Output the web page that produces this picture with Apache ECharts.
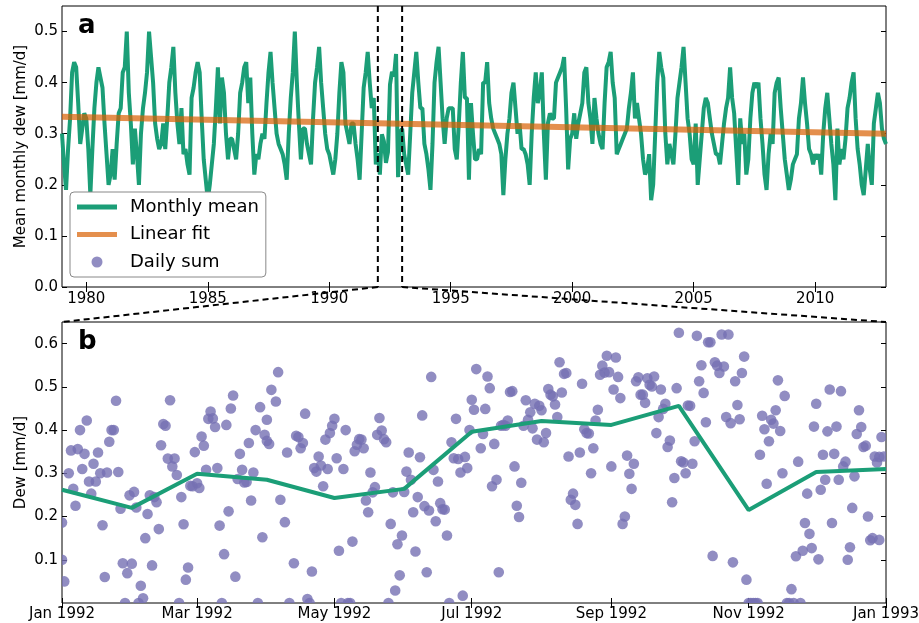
<!DOCTYPE html>
<html><head><meta charset="utf-8">
<script src="https://cdn.jsdelivr.net/npm/echarts@6/dist/echarts.min.js"></script>
<style>html,body{margin:0;padding:0;background:#fff}#c{width:919px;height:623px}</style>
</head><body><div id="c"></div>
<script>
// ---------- DATA ----------
const startYear = 1979;
// monthly mean dew [mm/d], one row per year (Jan..Dec), 1979-2012
const monthlyMean = [
  0.30,0.24,0.19,0.27,0.33,0.42,0.44,0.43,0.36,0.28,0.31,0.34,
  0.33,0.27,0.18,0.27,0.35,0.40,0.43,0.41,0.39,0.32,0.26,0.20,
  0.22,0.27,0.21,0.28,0.34,0.35,0.42,0.43,0.50,0.38,0.32,0.24,
  0.31,0.26,0.20,0.30,0.35,0.38,0.42,0.50,0.45,0.40,0.32,0.29,
  0.27,0.28,0.32,0.27,0.33,0.40,0.43,0.47,0.38,0.32,0.28,0.35,
  0.26,0.27,0.24,0.22,0.37,0.39,0.42,0.44,0.42,0.33,0.25,0.21,
  0.17,0.20,0.24,0.28,0.35,0.43,0.32,0.41,0.38,0.30,0.25,0.29,
  0.29,0.27,0.25,0.30,0.38,0.40,0.43,0.44,0.36,0.41,0.30,0.22,
  0.26,0.25,0.28,0.30,0.29,0.36,0.42,0.46,0.40,0.35,0.30,0.28,
  0.27,0.26,0.24,0.21,0.30,0.37,0.42,0.50,0.40,0.32,0.25,0.31,
  0.31,0.28,0.26,0.24,0.33,0.40,0.43,0.47,0.40,0.35,0.30,0.27,
  0.26,0.24,0.22,0.25,0.30,0.38,0.44,0.42,0.32,0.30,0.28,0.32,
  0.32,0.28,0.25,0.21,0.30,0.39,0.42,0.46,0.40,0.35,0.37,0.24,
  0.262,0.220,0.299,0.285,0.243,0.264,0.396,0.421,0.412,0.456,0.215,0.303,
  0.31,0.26,0.24,0.22,0.30,0.38,0.42,0.46,0.40,0.35,0.35,0.28,
  0.26,0.23,0.19,0.28,0.40,0.44,0.47,0.40,0.33,0.28,0.33,0.35,
  0.35,0.35,0.27,0.25,0.32,0.40,0.46,0.37,0.37,0.21,0.36,0.30,
  0.25,0.25,0.27,0.26,0.40,0.40,0.44,0.36,0.33,0.31,0.30,0.29,
  0.28,0.26,0.18,0.25,0.30,0.33,0.38,0.40,0.35,0.30,0.32,0.27,
  0.27,0.26,0.24,0.20,0.30,0.37,0.42,0.36,0.38,0.42,0.30,0.21,
  0.32,0.34,0.33,0.33,0.40,0.41,0.42,0.43,0.45,0.35,0.23,0.29,
  0.30,0.34,0.29,0.32,0.34,0.36,0.42,0.43,0.36,0.33,0.28,0.37,
  0.33,0.30,0.28,0.27,0.36,0.43,0.44,0.46,0.40,0.37,0.26,0.27,
  0.28,0.29,0.30,0.31,0.35,0.38,0.42,0.33,0.36,0.33,0.30,0.25,
  0.22,0.23,0.26,0.17,0.20,0.30,0.40,0.46,0.43,0.41,0.30,0.24,
  0.28,0.26,0.24,0.30,0.37,0.40,0.43,0.47,0.40,0.33,0.30,0.25,
  0.24,0.32,0.20,0.25,0.30,0.35,0.37,0.36,0.33,0.30,0.28,0.26,
  0.26,0.24,0.28,0.32,0.35,0.37,0.43,0.37,0.34,0.27,0.20,0.33,
  0.28,0.30,0.22,0.25,0.33,0.38,0.40,0.39,0.40,0.33,0.28,0.22,
  0.19,0.26,0.30,0.28,0.38,0.40,0.41,0.35,0.30,0.25,0.22,0.19,
  0.21,0.24,0.25,0.26,0.33,0.36,0.41,0.36,0.32,0.27,0.26,0.24,
  0.26,0.25,0.26,0.22,0.30,0.35,0.38,0.33,0.28,0.24,0.17,0.31,
  0.24,0.27,0.25,0.29,0.35,0.37,0.40,0.42,0.33,0.27,0.24,0.20,
  0.18,0.23,0.28,0.23,0.20,0.32,0.35,0.38,0.36,0.31,0.29,0.28
];
// linear fit value at first and last month
const linearFitEnds = [0.333, 0.300];
// zoomed year shown in panel b
const zoomYear = 1992;
// daily sums in zoomYear: [day of year (0 = Jan 1), value]
const dailySum = [
  [0,0.186],[0,0.10],[1,0.05],[3,0.30],[4,0.353],[5,0.264],[6,0.225],[7,0.356],[8,0.40],[9,0.31],
  [10,0.345],[11,0.422],[12,0.281],[13,0.253],[14,0.322],[15,0.281],[16,0.348],[17,0.30],[18,0.18],[19,0.06],
  [20,0.302],[21,0.373],[22,0.40],[23,0.40],[24,0.468],[25,0.303],[26,0.218],[27,0.092],[28,0],[29,0.069],
  [30,0.249],[31,0.091],[32,0.257],[33,0.221],[34,0],[35,0.04],[36,0.011],[37,0.15],[38,0.206],[39,0.249],
  [40,0.087],[41,0.245],[42,0.233],[43,0.171],[44,0.365],[45,0.414],[46,0.41],[47,0.334],[48,0.469],[49,0.316],
  [50,0.334],[51,0.296],[52,0],[53,0.245],[54,0.182],[55,0.054],[56,0.082],[57,0.271],[58,0.27],[59,0.349],
  [60,0.277],[61,0.266],[62,0.385],[63,0.364],[64,0.308],[65,0.426],[66,0.443],[67,0.427],[68,0.407],[69,0.312],
  [70,0.179],[71,0],[72,0.113],[73,0.412],[74,0.212],[75,0.45],[76,0.48],[77,0.061],[78,0.287],[79,0.345],
  [80,0.308],[81,0.279],[82,0.28],[83,0.37],[84,0.237],[85,0.302],[86,0.40],[87,0],[88,0.453],[89,0.152],
  [90,0.389],[91,0.375],[91,0.424],[92,0.368],[93,0.493],[95,0.466],[96,0.534],[97,0.239],[99,0.187],
  [100,0.348],[101,0],[103,0.092],[104,0.387],[105,0.384],[106,0.358],[107,0.37],[108,0.438],[109,0.009],
  [110,0],[111,0.073],[112,0.312],[113,0.304],[114,0.339],[115,0.318],[116,0.27],[117,0.378],[118,0.31],[119,0.393],
  [120,0.41],[121,0.426],[122,0.335],[123,0.121],[124,0],[125,0.31],[126,0.40],[127,0],[128,0],[129,0.142],
  [130,0.351],[131,0.366],[132,0.379],[133,0.378],[134,0.358],[135,0.237],[136,0.21],[137,0.302],[138,0.256],[139,0.268],
  [140,0.389],[141,0.428],[142,0.399],[143,0.379],[144,0.372],[145,0],[146,0.183],[147,0.256],[148,0.029],[149,0.136],
  [150,0.064],[151,0.156],[152,0.257],[153,0.304],[154,0.348],[155,0.285],[156,0.21],[157,0.119],[158,0.245],[159,0.337],
  [160,0.434],[161,0.224],[162,0.071],[163,0.214],[164,0.523],[165,0.308],[166,0.189],[167,0.281],[168,0.231],[169,0.217],
  [170,0.216],[171,0.156],[172,0],[173,0.372],[174,0.335],[175,0.426],[176,0.333],[177,0.302],[178,0.017],[179,0.338],
  [180,0.312],[181,0.40],[182,0.47],[183,0.447],[184,0.541],[186,0.358],[187,0.391],[188,0.449],[189,0.524],
  [190,0.497],[191,0.27],[192,0.368],[193,0.285],[194,0.071],[195,0.41],[196,0.412],[197,0.41],[198,0.422],[199,0.488],
  [200,0.49],[201,0.316],[202,0.225],[203,0.199],[204,0.278],[205,0.41],[206,0.469],[207,0.424],[208,0.441],[209,0.404],
  [210,0.461],[211,0.378],[212,0.456],[213,0.446],[214,0.372],[215,0.393],[216,0.495],[217,0.482],[218,0.478],[219,0.459],
  [220,0.43],[221,0.557],[222,0.487],[223,0.53],[224,0.532],[225,0.339],[226,0.239],[227,0.253],[228,0.227],[229,0.183],
  [230,0.348],[231,0.507],[232,0.402],[233,0.393],[234,0.392],[235,0.30],[236,0.358],[237,0.422],[238,0.447],[239,0.528],
  [240,0.549],[241,0.533],[242,0.572],[243,0.534],[244,0.316],[245,0.494],[246,0.568],[247,0.523],[248,0.474],[249,0.183],
  [250,0.20],[251,0.341],[252,0.299],[253,0.264],[254,0.322],[255,0.513],[256,0.522],[257,0.482],[258,0.482],[259,0.463],
  [260,0.52],[261,0.505],[262,0.501],[263,0.524],[264,0.393],[265,0.43],[266,0.494],[267,0.449],[268,0.461],[269,0.361],
  [270,0.376],[271,0.233],[272,0.289],[273,0.497],[274,0.625],[275,0.328],[276,0.325],[277,0.30],[278,0.457],[279,0.456],
  [280,0.322],[281,0.374],[282,0.618],[283,0.513],[284,0.55],[285,0.486],[286,0.418],[287,0.603],[288,0.603],[289,0.109],
  [290,0.557],[291,0.549],[292,0.532],[293,0.621],[294,0.547],[295,0.43],[296,0.621],[297,0.416],[298,0.094],[299,0.513],
  [300,0.458],[301,0.425],[302,0.532],[303,0.57],[304,0.054],[305,0],[306,0],[307,0],[308,0],[309,0],
  [310,0.343],[311,0.433],[312,0.402],[313,0.276],[314,0.374],[315,0.424],[316,0.415],[317,0.446],[318,0.515],[319,0.398],
  [320,0.30],[321,0.479],[322,0],[323,0],[324,0.032],[325,0],[326,0.108],[327,0.327],[328,0],[329,0.121],
  [330,0.185],[331,0.253],[332,0.16],[333,0.127],[334,0.408],[335,0.461],[336,0.101],[337,0.262],[338,0.343],[339,0.285],
  [340,0.397],[341,0.494],[342,0.185],[343,0.345],[344,0.408],[345,0.285],[346,0.49],[347,0.316],[348,0.327],[349,0.10],
  [350,0.129],[351,0.22],[352,0.293],[353,0.391],[354,0.446],[355,0.407],[356,0.361],[357,0.364],[358,0.20],[359,0.145],
  [360,0.15],[361,0.339],[362,0.325],[363,0.146],[363,0.338],[364,0.384],[365,0.339]
];
// tick labels
const yearTicks = [1980, 1985, 1990, 1995, 2000, 2005, 2010];
const topYTicks = [0.0, 0.1, 0.2, 0.3, 0.4, 0.5];
const bottomYTicks = [0.1, 0.2, 0.3, 0.4, 0.5, 0.6];
const bottomMonthTicks = [0, 2, 4, 6, 8, 10, 12];
const monthNames = ['Jan','Feb','Mar','Apr','May','Jun','Jul','Aug','Sep','Oct','Nov','Dec'];
const topYMax = 0.55, bottomYMax = 0.65;

// ---------- DERIVED ----------
const topLine = monthlyMean.map((v, i) => [startYear + i / 12, v]);
const topXMin = startYear, topXMax = startYear + (monthlyMean.length - 1) / 12;
const fitLine = [[topXMin, linearFitEnds[0]], [topXMax, linearFitEnds[1]]];
const off = (zoomYear - startYear) * 12;
const zoomLine = [];
for (let m = 0; m <= 12; m++) zoomLine.push([Date.UTC(zoomYear, m, 1), monthlyMean[off + m]]);
const dayMs = 86400000;
const t0 = Date.UTC(zoomYear, 0, 1), t1 = Date.UTC(zoomYear + 1, 0, 1);
const dailyData = dailySum.map(d => [t0 + d[0] * dayMs, d[1]]);
const monthTickValues = bottomMonthTicks.map(m => Date.UTC(zoomYear, m, 1));

const GREEN = '#1b9e77', ORANGE = 'rgba(217,95,2,0.7)', PURPLE = 'rgba(117,112,179,0.8)';
const FONT = 'DejaVu Sans';
const grids = [
  {left: 62, top: 6, width: 824, height: 281},
  {left: 62, top: 322, width: 824, height: 281}
].map(g => Object.assign({show: true, borderColor: '#000', borderWidth: 1, containLabel: false, outerBoundsMode: 'none'}, g));

function tickAxis(extra) {
  return Object.assign({
    type: 'value', splitLine: {show: false}, axisLine: {show: false},
    axisTick: {inside: true, length: 5, lineStyle: {color: '#000', width: 1}},
    axisLabel: {color: '#000', fontSize: 15, fontFamily: FONT}
  }, extra);
}
const fmtMonth = v => { const d = new Date(v); return monthNames[d.getUTCMonth()] + ' ' + d.getUTCFullYear(); };

const xAxis = [
  tickAxis({gridIndex: 0, position: 'bottom', min: topXMin, max: topXMax,
    axisTick: {inside: true, length: 5, customValues: yearTicks, lineStyle: {color: '#000'}},
    axisLabel: {customValues: yearTicks, color: '#000', fontSize: 15, fontFamily: FONT, margin: 5, formatter: v => String(v)}}),
  tickAxis({gridIndex: 0, position: 'top', min: topXMin, max: topXMax,
    axisTick: {inside: true, length: 5, customValues: yearTicks, lineStyle: {color: '#000'}},
    axisLabel: {show: false}}),
  tickAxis({gridIndex: 1, position: 'bottom', min: t0, max: t1,
    axisTick: {inside: true, length: 5, customValues: monthTickValues, lineStyle: {color: '#000'}},
    axisLabel: {customValues: monthTickValues, color: '#000', fontSize: 15, fontFamily: FONT, margin: 4, formatter: fmtMonth}}),
  tickAxis({gridIndex: 1, position: 'top', min: t0, max: t1,
    axisTick: {inside: true, length: 5, customValues: monthTickValues, lineStyle: {color: '#000'}},
    axisLabel: {show: false}})
];
const yAxis = [
  tickAxis({gridIndex: 0, position: 'left', min: 0, max: topYMax,
    name: 'Mean monthly dew [mm/d]', nameLocation: 'middle', nameGap: 33, nameMoveOverlap: false,
    nameTextStyle: {fontSize: 15, color: '#000', fontFamily: FONT},
    axisTick: {inside: true, length: 5, customValues: topYTicks, lineStyle: {color: '#000'}},
    axisLabel: {customValues: topYTicks, color: '#000', fontSize: 15, fontFamily: FONT, margin: 4, formatter: v => v.toFixed(1)}}),
  tickAxis({gridIndex: 0, position: 'right', min: 0, max: topYMax,
    axisTick: {inside: true, length: 5, customValues: topYTicks, lineStyle: {color: '#000'}},
    axisLabel: {show: false}}),
  tickAxis({gridIndex: 1, position: 'left', min: 0, max: bottomYMax,
    name: 'Dew [mm/d]', nameLocation: 'middle', nameGap: 33, nameMoveOverlap: false,
    nameTextStyle: {fontSize: 15, color: '#000', fontFamily: FONT},
    axisTick: {inside: true, length: 5, customValues: bottomYTicks, lineStyle: {color: '#000'}},
    axisLabel: {customValues: bottomYTicks, color: '#000', fontSize: 15, fontFamily: FONT, margin: 4, formatter: v => v.toFixed(1)}}),
  tickAxis({gridIndex: 1, position: 'right', min: 0, max: bottomYMax,
    axisTick: {inside: true, length: 5, customValues: bottomYTicks, lineStyle: {color: '#000'}},
    axisLabel: {show: false}})
];

const BAR_ICON = 'path://M0,0h40v5h-40z';
const chart = echarts.init(document.getElementById('c'), null, {renderer: 'canvas'});
chart.setOption({
  animation: false,
  backgroundColor: '#fff',
  textStyle: {fontFamily: FONT},
  grid: grids,
  xAxis: xAxis,
  yAxis: yAxis,
  legend: {
    data: [{name: 'Monthly mean', icon: BAR_ICON}, {name: 'Linear fit', icon: BAR_ICON}, {name: 'Daily sum', icon: 'circle'}],
    orient: 'vertical', left: 70, top: 192,
    padding: [6, 7, 6, 7], itemGap: 9.5, itemWidth: 40, itemHeight: 11,
    borderColor: '#888', borderWidth: 1, borderRadius: 4, backgroundColor: '#fff',
    textStyle: {fontSize: 18, color: '#000', fontFamily: FONT, padding: [0, 0, 0, 8]},
    z: 20
  },
  series: [
    {name: 'Monthly mean', type: 'line', xAxisIndex: 0, yAxisIndex: 0, data: topLine,
      symbol: 'none', lineStyle: {color: GREEN, width: 4}, itemStyle: {color: GREEN}, z: 2},
    {name: 'Linear fit', type: 'line', xAxisIndex: 0, yAxisIndex: 0, data: fitLine,
      symbol: 'none', lineStyle: {color: ORANGE, width: 6}, itemStyle: {color: ORANGE}, z: 3},
    {name: 'Daily sum', type: 'custom', xAxisIndex: 2, yAxisIndex: 2, data: dailyData, clip: true,
      itemStyle: {color: PURPLE},
      renderItem: (params, api) => {
        const p = api.coord([api.value(0), api.value(1)]);
        return {type: 'circle', shape: {cx: p[0], cy: p[1], r: 5.3}, style: {fill: PURPLE}};
      }, z: 2},
    {name: 'Monthly mean', type: 'line', xAxisIndex: 2, yAxisIndex: 2, data: zoomLine,
      symbol: 'none', lineStyle: {color: GREEN, width: 4}, itemStyle: {color: GREEN}, z: 3}
  ]
});

// connector annotations (dashed lines) computed from the axes
const pTopA = chart.convertToPixel({xAxisIndex: 0, yAxisIndex: 0}, [zoomYear, 0]);
const pTopATop = chart.convertToPixel({xAxisIndex: 0, yAxisIndex: 0}, [zoomYear, topYMax]);
const pTopB = chart.convertToPixel({xAxisIndex: 0, yAxisIndex: 0}, [zoomYear + 1, 0]);
const pTopBTop = chart.convertToPixel({xAxisIndex: 0, yAxisIndex: 0}, [zoomYear + 1, topYMax]);
const pBotA = chart.convertToPixel({xAxisIndex: 2, yAxisIndex: 2}, [t0, bottomYMax]);
const pBotB = chart.convertToPixel({xAxisIndex: 2, yAxisIndex: 2}, [t1, bottomYMax]);
const pTopA0 = chart.convertToPixel({xAxisIndex: 0, yAxisIndex: 0}, [topXMin, topYMax]);
const pBotA0 = chart.convertToPixel({xAxisIndex: 2, yAxisIndex: 2}, [t0, bottomYMax]);
const dash = {stroke: '#000', lineWidth: 2, lineDash: [6, 4]};
const seg = (a, b) => ({type: 'line', z: 50, silent: true, shape: {x1: a[0], y1: a[1], x2: b[0], y2: b[1]}, style: dash});
chart.setOption({
  graphic: [
    seg(pTopATop, pTopA), seg(pTopBTop, pTopB), seg(pTopA, pBotA), seg(pTopB, pBotB),
    {type: 'text', z: 60, x: pTopA0[0] + 16, y: pTopA0[1] + 20,
      style: {text: 'a', font: 'bold 26px "DejaVu Sans"', fill: '#000', verticalAlign: 'middle'}},
    {type: 'text', z: 60, x: pBotA0[0] + 16, y: pBotA0[1] + 20,
      style: {text: 'b', font: 'bold 26px "DejaVu Sans"', fill: '#000', verticalAlign: 'middle'}}
  ]
});
</script>
</body></html>
